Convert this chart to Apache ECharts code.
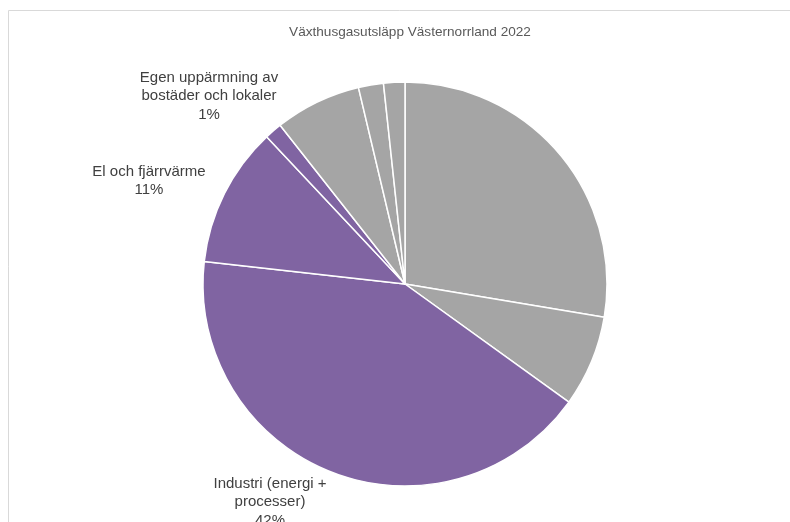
<!DOCTYPE html>
<html>
<head>
<meta charset="utf-8">
<script src="https://cdn.jsdelivr.net/npm/echarts@6/dist/echarts.min.js"></script>
<style>html,body{margin:0;padding:0;background:#fff}#c{width:790px;height:522px}</style>
</head>
<body>
<div id="c"></div>
<script>
var categories = ["Inrikes transporter", "Arbetsmaskiner", "Industri (energi +\nprocesser)", "El och fjärrvärme", "Egen uppärmning av\nbostäder och lokaler", "Jordbruk", "Avfall (inkl. avlopp)", "Produktanvändning"];
var values = [27.6, 7.3, 41.8, 11.2, 1.4, 6.9, 2.0, 1.7];
var showLabel = [false, false, true, true, true, false, false, false];
var colors = ["#a5a5a5", "#a5a5a5", "#8064a2", "#8064a2", "#8064a2", "#a5a5a5", "#a5a5a5", "#a5a5a5"];
var titleText = "Växthusgasutsläpp Västernorrland 2022";
var labelPos = {2: [270, 502], 3: [149, 181], 4: [209, 96]};

var chart = echarts.init(document.getElementById('c'), null, {renderer: 'canvas'});
var data = categories.map(function (n, i) {
  return {
    name: n, value: values[i],
    itemStyle: {color: colors[i]},
    label: {show: showLabel[i]}
  };
});
chart.setOption({
  animation: false,
  title: {
    text: titleText, left: 405, top: 20, textAlign: 'center',
    textStyle: {fontFamily: 'Liberation Sans', fontSize: 13.6, fontWeight: 'normal', color: '#595959'}
  },
  graphic: [{
    type: 'rect', silent: true,
    shape: {x: 8.5, y: 10.5, width: 800, height: 600},
    style: {fill: 'none', stroke: '#d9d9d9', lineWidth: 1}
  }],
  series: [{
    type: 'pie',
    center: [405, 284],
    radius: 202,
    startAngle: 90,
    clockwise: true,
    percentPrecision: 0,
    itemStyle: {borderColor: '#fff', borderWidth: 1.5},
    label: {
      position: 'outside',
      formatter: '{b}\n{d}%',
      fontFamily: 'Liberation Sans', fontSize: 15, color: '#404040',
      lineHeight: 18.5, align: 'center'
    },
    labelLine: {show: false},
    labelLayout: function (p) {
      var pos = labelPos[p.dataIndex];
      if (!pos) return {};
      return {x: pos[0], y: pos[1], align: 'center', verticalAlign: 'middle'};
    },
    emphasis: {disabled: true},
    data: data
  }]
});
</script>
</body>
</html>
